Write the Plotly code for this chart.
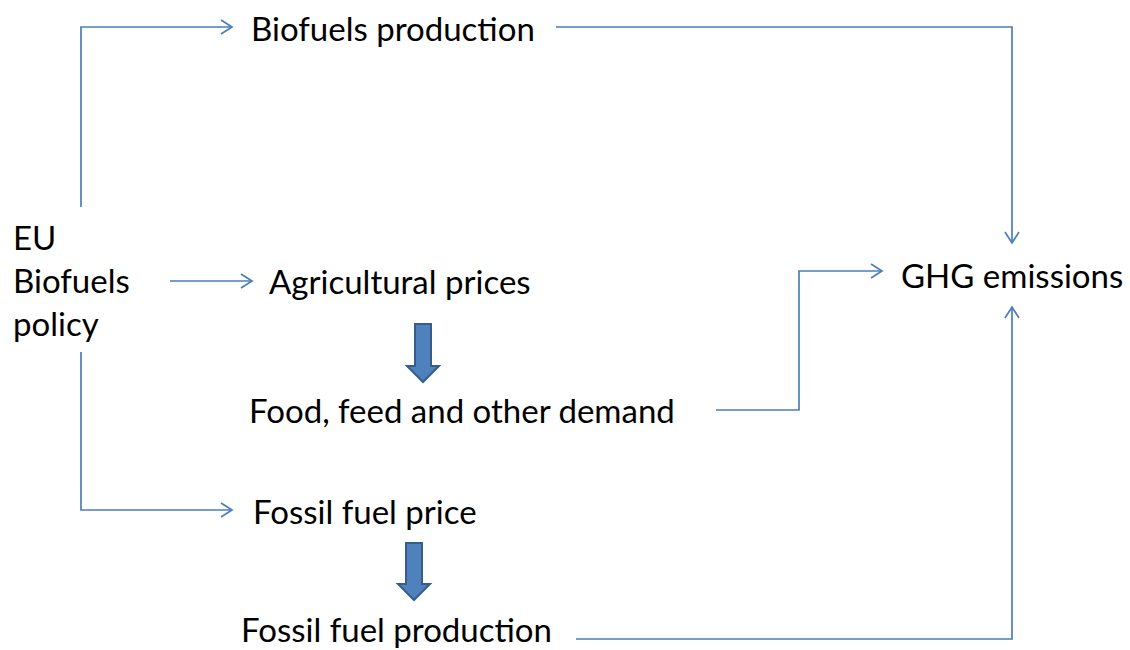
import plotly.graph_objects as go

# ---- diagram content ----
node_labels = ["Biofuels production", "EU<br>Biofuels<br>policy", "Agricultural prices",
               "Food, feed and other demand", "Fossil fuel price", "Fossil fuel production",
               "GHG emissions"]
node_x = [250, 12, 268, 248, 252, 240, 900]      # left edge of text (px)
node_y = [28, 280, 281, 410, 511, 629, 275]      # vertical centre of text (px)

# connector paths (px), each ending with an open arrowhead
connectors = [
    [(81, 207), (81, 27), (232, 27)],
    [(556, 27), (1012, 27), (1012, 243)],
    [(170, 281), (252, 281)],
    [(81, 352), (81, 510), (232, 510)],
    [(716, 410), (799, 410), (799, 271), (882, 271)],
    [(576, 639), (1012, 639), (1012, 307)],
]
# block arrows: (centre x, top y, bottom y)
block_arrows = [(423, 324, 382), (414, 543, 600)]

LINE = "#4a7ebb"
W, H = 1130, 650

fig = go.Figure()

for path in connectors:
    xs = [p[0] for p in path]
    ys = [p[1] for p in path]
    fig.add_trace(go.Scatter(x=xs, y=ys, mode="lines",
                             line=dict(color=LINE, width=1.7), hoverinfo="skip"))
    # open arrowhead
    (x0, y0), (x1, y1) = path[-2], path[-1]
    dx, dy = x1 - x0, y1 - y0
    L = (dx * dx + dy * dy) ** 0.5
    ux, uy = dx / L, dy / L
    px, py = -uy, ux
    hl, hw = 11, 7
    ax = [x1 - ux * hl + px * hw, x1, x1 - ux * hl - px * hw]
    ay = [y1 - uy * hl + py * hw, y1, y1 - uy * hl - py * hw]
    fig.add_trace(go.Scatter(x=ax, y=ay, mode="lines",
                             line=dict(color=LINE, width=1.7), hoverinfo="skip"))

for cx, top, bot in block_arrows:
    sw, hw, hh = 8, 16, 16
    path = (f"M {cx-sw} {top} L {cx+sw} {top} L {cx+sw} {bot-hh} L {cx+hw} {bot-hh} "
            f"L {cx} {bot} L {cx-hw} {bot-hh} L {cx-sw} {bot-hh} Z")
    fig.add_shape(type="path", path=path, xref="x", yref="y",
                  fillcolor="#4f81bd", line=dict(color="#385d8a", width=2))

for lab, x, y in zip(node_labels, node_x, node_y):
    fig.add_annotation(x=x, y=y, text=lab, showarrow=False, xanchor="left",
                       yanchor="middle", align="left", borderpad=0,
                       font=dict(family="Lato, Carlito, sans-serif", size=33, color="#000000"))

fig.update_layout(
    width=W, height=H, margin=dict(l=0, r=0, t=0, b=0),
    paper_bgcolor="white", plot_bgcolor="white", showlegend=False,
    xaxis=dict(range=[0, W], visible=False, fixedrange=True),
    yaxis=dict(range=[H, 0], visible=False, fixedrange=True),
)
fig.write_html("out.html", config={"displayModeBar": False},
               post_script="document.body.style.margin='0px';document.body.style.overflow='hidden';")
